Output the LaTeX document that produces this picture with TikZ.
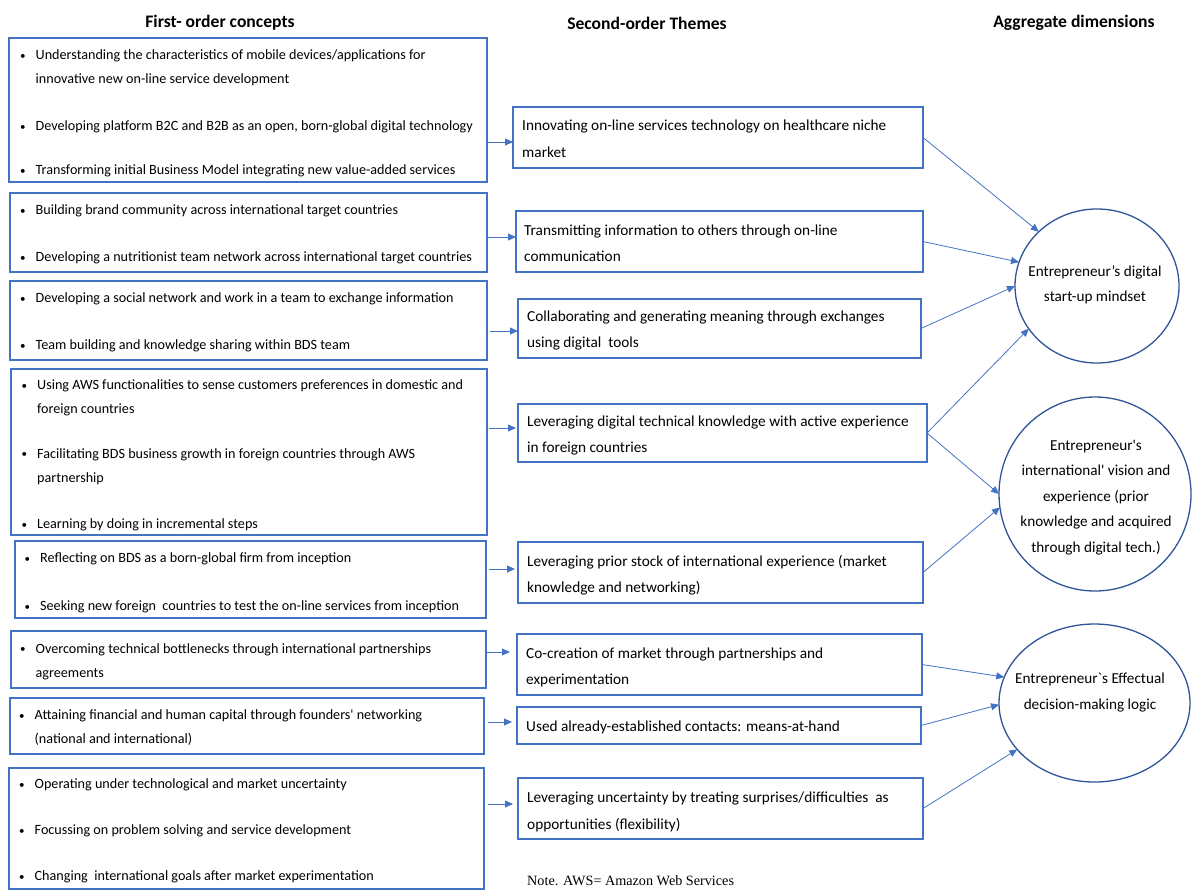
\documentclass[tikz,border=0pt]{standalone}
\usepackage{fontspec}
\setmainfont{Carlito}[Ligatures=TeXOff]
\newfontfamily\notefont{Liberation Serif}[Ligatures=TeXOff]
\usetikzlibrary{arrows.meta,shapes.geometric}
\definecolor{boxblue}{HTML}{4472C4}
\definecolor{ringblue}{HTML}{2F5597}
% bullet and continuation-line helpers
\newcommand\bt{\strut\makebox[15.5pt][l]{\raisebox{0.8pt}{\fontsize{11}{11}\selectfont\textbullet}}}
\newcommand\ct{\strut\hspace*{15.5pt}}
\begin{document}
\begin{tikzpicture}[x=1pt,y=-1pt,
  lbox/.style={draw=boxblue,line width=1.2pt,anchor=north west,inner sep=0,outer sep=0},
  mbox/.style={draw=boxblue,line width=1.2pt,anchor=north west,inner sep=0,outer sep=0},
  dim/.style={ellipse,draw=ringblue,line width=1.3pt,inner sep=0,outer sep=0},
  ltxt/.style={anchor=west,inner sep=0,align=left,font=\fontsize{14.15}{24}\selectfont},
  mtxt/.style={anchor=west,inner sep=0,align=left,font=\fontsize{15.3}{26.5}\selectfont},
  ctxt/.style={inner sep=0,align=center,font=\fontsize{15.2}{25.5}\selectfont},
  head/.style={inner sep=0,font=\fontsize{17.6}{19}\selectfont\bfseries},
  arr/.style={draw=boxblue,line width=0.8pt,-{Triangle[length=8pt,width=7pt]}},
]
\useasboundingbox (0,0) rectangle (1193,891);

% column headings
\node[head] (h1) at (220,23) {First- order concepts};
\node[head] (h2) at (647,23) {Second-order Themes};
\node[head] (h3) at (1074,23) {Aggregate dimensions};

% first-order concept boxes
\node[lbox,minimum width=478,minimum height=144] (b1) at (9,38) {};
\node[lbox,minimum width=477,minimum height=79] (b2) at (10,193) {};
\node[lbox,minimum width=477,minimum height=79] (b3) at (10,281) {};
\node[lbox,minimum width=476,minimum height=166] (b4) at (11,369) {};
\node[lbox,minimum width=471,minimum height=77] (b5) at (15,541) {};
\node[lbox,minimum width=475,minimum height=57] (b6) at (11,631) {};
\node[lbox,minimum width=474,minimum height=56] (b7) at (10,698) {};
\node[lbox,minimum width=475,minimum height=121] (b8) at (9,768) {};

\node[ltxt] (t11) at (20,67) {\bt Understanding the characteristics of mobile devices/applications for\\\ct innovative new on-line service development};
\node[ltxt] (t12) at (20,126) {\bt Developing platform B2C and B2B as an open, born-global digital technology};
\node[ltxt] (t13) at (20,170) {\bt Transforming initial Business Model integrating new value-added services};

\node[ltxt] (t21) at (20,210) {\bt Building brand community across international target countries};
\node[ltxt] (t22) at (20,257) {\bt Developing a nutritionist team network across international target countries};

\node[ltxt] (t31) at (20,298) {\bt Developing a social network and work in a team to exchange information};
\node[ltxt] (t32) at (20,345) {\bt Team building and knowledge sharing within BDS team};

\node[ltxt] (t41) at (21.5,397) {\bt Using AWS functionalities to sense customers preferences in domestic and\\\ct foreign countries};
\node[ltxt] (t42) at (21.5,465.5) {\bt Facilitating BDS business growth in foreign countries through AWS\\\ct partnership};
\node[ltxt] (t43) at (21.5,524) {\bt Learning by doing in incremental steps};

\node[ltxt] (t51) at (24.5,558) {\bt Reflecting on BDS as a born-global firm from inception};
\node[ltxt] (t52) at (24.5,606) {\bt Seeking new foreign\ \ countries to test the on-line services from inception};

\node[ltxt] (t61) at (20,660.5) {\bt Overcoming technical bottlenecks through international partnerships\\\ct agreements};

\node[ltxt] (t71) at (19,727) {\bt Attaining financial and human capital through founders' networking\\\ct (national and international)};

\node[ltxt] (t81) at (19,784) {\bt Operating under technological and market uncertainty};
\node[ltxt] (t82) at (19,830) {\bt Focussing on problem solving and service development};
\node[ltxt] (t83) at (19,876) {\bt Changing\ \ international goals after market experimentation};

% second-order theme boxes
\node[mbox,minimum width=410,minimum height=61] (m1) at (513,107) {};
\node[mbox,minimum width=407,minimum height=61] (m2) at (516,211) {};
\node[mbox,minimum width=403,minimum height=59] (m3) at (518,299) {};
\node[mbox,minimum width=409,minimum height=58] (m4) at (518,404) {};
\node[mbox,minimum width=405,minimum height=61] (m5) at (518,542) {};
\node[mbox,minimum width=405,minimum height=61] (m6) at (517,634) {};
\node[mbox,minimum width=404,minimum height=37] (m7) at (517,707) {};
\node[mbox,minimum width=405,minimum height=61] (m8) at (518,778) {};

\node[mtxt] (s1) at (522,138.5) {\strut Innovating on-line services technology on healthcare niche\\\strut market};
\node[mtxt] (s2) at (524,243) {\strut Transmitting information to others through on-line\\\strut communication};
\node[mtxt] (s3) at (527,329) {\strut Collaborating and generating meaning through exchanges\\\strut using digital\ \ tools};
\node[mtxt] (s4) at (527,434) {\strut Leveraging digital technical knowledge with active experience\\\strut in foreign countries};
\node[mtxt] (s5) at (527,574) {\strut Leveraging prior stock of international experience (market\\\strut knowledge and networking)};
\node[mtxt] (s6) at (526,666) {\strut Co-creation of market through partnerships and\\\strut experimentation};
\node[mtxt] (s7) at (526,726) {\strut Used already-established contacts: means-at-hand};
\node[mtxt] (s8) at (527,810.5) {\strut Leveraging uncertainty by treating surprises/difficulties\ \ as\\\strut opportunities (flexibility)};

% aggregate dimensions
\node[dim,minimum width=164,minimum height=154] (c1) at (1097,286) {};
\node[dim,minimum width=192,minimum height=194] (c2) at (1095,494) {};
\node[dim,minimum width=191,minimum height=158] (c3) at (1094.5,703) {};

\node[ctxt] (d1) at (1095,285) {Entrepreneur’s digital\\start-up mindset};
\node[ctxt] (d2) at (1096,497.5) {Entrepreneur's\\international' vision and\\experience (prior\\knowledge and acquired\\through digital tech.)};
\node[ctxt] (d3) at (1090,692.5) {Entrepreneur`s Effectual\\decision-making logic};

% note
\node[anchor=west,inner sep=0,font=\notefont\fontsize{14.2}{16}\selectfont] (note) at (527,881) {Note. AWS= Amazon Web Services};

% concepts -> themes
\draw[arr] (b1.east |- 0,142) -- (m1.west |- 0,142);
\draw[arr] (b2.east |- 0,237) -- (m2.west |- 0,237);
\draw[arr,shorten <=3pt] (b3.east |- 0,331) -- (m3.west |- 0,331);
\draw[arr,shorten <=2pt,shorten >=2pt] (b4.east |- 0,428) -- (m4.west |- 0,428);
\draw[arr,shorten <=3pt,shorten >=3pt] (b5.east |- 0,569) -- (m5.west |- 0,569);
\draw[arr,shorten >=7pt] (b6.east |- 0,652) -- (m6.west |- 0,652);
\draw[arr,shorten <=4pt,shorten >=5pt] (b7.east |- 0,722) -- (m7.west |- 0,722);
\draw[arr,shorten <=4pt,shorten >=5pt] (b8.east |- 0,804) -- (m8.west |- 0,804);

% themes -> aggregate dimensions
\draw[arr] (m1.east) -- (c1.137);
\draw[arr] (m2.east) -- (c1.163);
\draw[arr] (m3.east) -- (c1.180);
\draw[arr] (m4.east) -- (c1.212);
\draw[arr] (m4.east) -- (c2.180);
\draw[arr] (m5.east) -- (c2.188);
\draw[arr] (m6.east) -- (c3.164);
\draw[arr] (m7.east) -- (c3.181);
\draw[arr] (m8.east) -- (c3.211);
\end{tikzpicture}
\end{document}
